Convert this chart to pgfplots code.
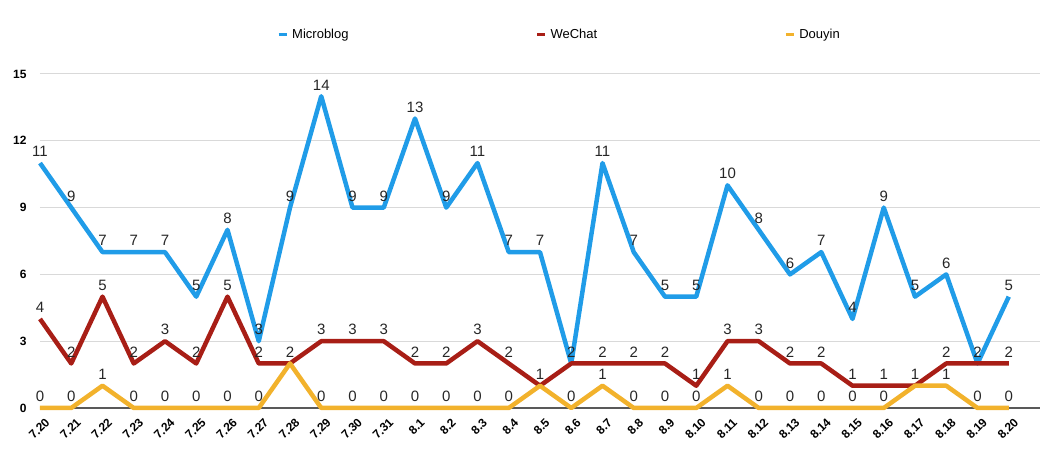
\documentclass[border=0pt]{standalone}
\usepackage{pgfplots}
\pgfplotsset{compat=1.18}
\usepackage{pgfplotstable}
\usepackage{fontspec}
\setmainfont{Liberation Sans}

\definecolor{mblue}{RGB}{32,156,232}
\definecolor{wred}{RGB}{168,30,22}
\definecolor{dyel}{RGB}{242,178,44}

% idx: 0 = 7.20 ... 31 = 8.20
% lm/lw/ld: value labels ({} where another series already shows the same number)
\pgfplotstableread{
idx mb wc dy lm lw ld
0  11 4 0 11 4 0
1  9  2 0 9  2 0
2  7  5 1 7  5 1
3  7  2 0 7  2 0
4  7  3 0 7  3 0
5  5  2 0 5  2 0
6  8  5 0 8  5 0
7  3  2 0 3  2 0
8  9  2 2 9  2 {}
9  14 3 0 14 3 0
10 9  3 0 9  3 0
11 9  3 0 9  3 0
12 13 2 0 13 2 0
13 9  2 0 9  2 0
14 11 3 0 11 3 0
15 7  2 0 7  2 0
16 7  1 1 7  1 {}
17 2  2 0 2  {} 0
18 11 2 1 11 2 1
19 7  2 0 7  2 0
20 5  2 0 5  2 0
21 5  1 0 5  1 0
22 10 3 1 10 3 1
23 8  3 0 8  3 0
24 6  2 0 6  2 0
25 7  2 0 7  2 0
26 4  1 0 4  1 0
27 9  1 0 9  1 0
28 5  1 1 5  1 {}
29 6  2 1 6  2 1
30 2  2 0 2  {} 0
31 5  2 0 5  2 0
}\data

\begin{document}
\begin{tikzpicture}
\begin{axis}[
    scale only axis,
    width=1000pt, height=334pt,
    xmin=0, xmax=32,
    ymin=0, ymax=15,
    clip=false,
    axis line style={draw=none},
    major tick length=0pt,
    ytick={3,6,9,12,15},
    extra y ticks={0},
    extra y tick style={grid style={color=black!65, line width=1.2pt}},
    ymajorgrids,
    grid style={color=black!15, line width=1pt},
    xtick={0,...,31},
    xticklabels={7.20,7.21,7.22,7.23,7.24,7.25,7.26,7.27,7.28,7.29,7.30,7.31,
        8.1,8.2,8.3,8.4,8.5,8.6,8.7,8.8,8.9,8.10,8.11,8.12,8.13,8.14,8.15,
        8.16,8.17,8.18,8.19,8.20},
    xticklabel style={font=\fontsize{12}{14}\selectfont\bfseries,
        xshift=10pt, yshift=-10pt, rotate=45, anchor=east},
    yticklabel style={font=\fontsize{12}{14}\selectfont\bfseries, xshift=-10pt},
    /pgf/number format/assume math mode=true,
    point meta=explicit symbolic,
    nodes near coords={\pgfplotspointmeta},
    nodes near coords style={font=\fontsize{15}{17}\selectfont, text=black!85,
        anchor=south, inner sep=2pt, yshift=2pt},
    legend columns=3,
    legend style={draw=none, fill=none, at={(0.5195,1.117)}, anchor=center,
        font=\fontsize{13}{15}\selectfont,
        /tikz/every odd column/.append style={column sep=2pt},
        /tikz/every even column/.append style={column sep=185pt}},
    legend image code/.code={\draw[#1, line width=3pt] (0pt,0pt) -- (8pt,0pt);},
    every axis plot/.append style={line width=4.5pt, line join=round, mark=none},
]
\addplot[color=mblue] table[x=idx, y=mb, meta=lm] {\data};
\addlegendentry{Microblog}
\addplot[color=wred] table[x=idx, y=wc, meta=lw] {\data};
\addlegendentry{WeChat}
\addplot[color=dyel] table[x=idx, y=dy, meta=ld] {\data};
\addlegendentry{Douyin}
\end{axis}
\pgfresetboundingbox
\useasboundingbox (-40pt,-46pt) rectangle (1019pt,408pt);
\end{tikzpicture}
\end{document}
